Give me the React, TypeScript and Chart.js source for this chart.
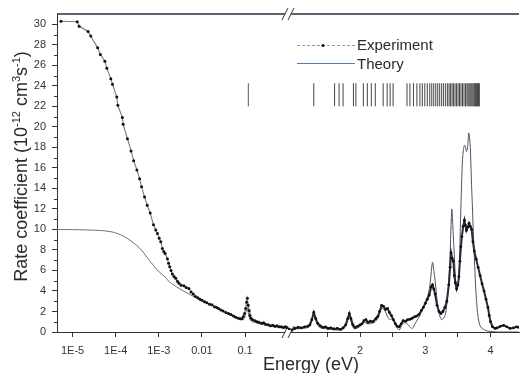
import { useEffect, useRef } from 'react';
import { Chart, registerables } from 'chart.js';

Chart.register(...registerables);

// ---- Experiment, low-energy (log) part ----
const expLowE = [5.4e-6, 1.28e-5, 1.42e-5, 2.29e-5, 2.64e-5, 3.82e-5, 4.41e-5, 5.62e-5, 6.24e-5, 7.71e-5, 8.43e-5, 1.06e-4, 1.12e-4, 1.43e-4, 1.49e-4, 1.87e-4, 2.27e-4, 2.61e-4, 3.1e-4, 3.58e-4, 3.98e-4, 4.67e-4, 5.38e-4, 6.31e-4, 7.52e-4, 8.5e-4, 9.29e-4, 1.02e-3, 1.11e-3, 1.21e-3, 1.3e-3, 1.4e-3, 1.58e-3, 1.68e-3, 1.79e-3, 1.92e-3, 2.06e-3, 2.25e-3, 2.46e-3, 2.7e-3, 2.93e-3, 3.3e-3, 3.82e-3, 4.3e-3, 4.98e-3, 5.6e-3, 6.3e-3, 7.08e-3, 8.0e-3, 9.0e-3, 1.0e-2, 1.15e-2, 1.3e-2, 1.5e-2, 1.7e-2, 1.95e-2, 2.2e-2, 2.43e-2, 2.75e-2, 3.1e-2, 3.6e-2, 4.13e-2, 4.7e-2, 5.4e-2, 6.1e-2, 7.01e-2, 7.8e-2, 8.5e-2, 9.12e-2, 9.7e-2, 0.103, 0.108, 0.113, 0.118, 0.124, 0.13, 0.137, 0.15, 0.17, 0.19, 0.21, 0.241, 0.27, 0.3, 0.344, 0.39, 0.44, 0.49, 0.55, 0.62, 0.693, 0.78, 0.86, 0.94];
const expLowRate = [30.3, 30.25, 29.8, 29.3, 28.85, 27.7, 27.05, 26.4, 25.7, 24.7, 24.15, 22.9, 22.1, 20.9, 20.25, 18.85, 17.65, 16.7, 15.8, 14.95, 14.15, 13.15, 12.35, 11.6, 10.45, 9.95, 9.6, 9.15, 8.8, 8.15, 7.85, 7.65, 7.15, 6.7, 6.35, 6.0, 5.65, 5.4, 5.25, 4.95, 4.75, 4.55, 4.5, 4.35, 4.25, 3.9, 3.7, 3.45, 3.35, 3.2, 3.1, 2.95, 2.85, 2.7, 2.65, 2.45, 2.4, 2.3, 2.15, 2.05, 1.9, 1.8, 1.7, 1.55, 1.45, 1.35, 1.3, 1.3, 1.5, 1.8, 2.3, 2.9, 3.3, 2.6, 2.1, 1.6, 1.35, 1.2, 1.1, 1.0, 0.95, 0.85, 0.9, 0.75, 0.7, 0.6, 0.65, 0.55, 0.6, 0.5, 0.5, 0.45, 0.5, 0.45];

// ---- Experiment, high-energy (linear) part ----
const expHighE = [0.9, 0.95, 1.0, 1.05, 1.1, 1.15, 1.2, 1.23, 1.26, 1.29, 1.32, 1.35, 1.39, 1.43, 1.47, 1.51, 1.55, 1.6, 1.65, 1.7, 1.74, 1.78, 1.81, 1.835, 1.86, 1.89, 1.92, 1.96, 2.0, 2.03, 2.06, 2.09, 2.12, 2.16, 2.2, 2.24, 2.27, 2.3, 2.33, 2.36, 2.39, 2.42, 2.45, 2.48, 2.51, 2.54, 2.57, 2.6, 2.63, 2.66, 2.7, 2.73, 2.77, 2.8, 2.84, 2.87, 2.9, 2.94, 2.97, 3.0, 3.03, 3.06, 3.09, 3.11, 3.13, 3.15, 3.18, 3.21, 3.24, 3.27, 3.3, 3.33, 3.36, 3.38, 3.395, 3.41, 3.43, 3.445, 3.46, 3.48, 3.5, 3.515, 3.53, 3.545, 3.56, 3.58, 3.6, 3.615, 3.63, 3.65, 3.67, 3.69, 3.71, 3.73, 3.75, 3.78, 3.81, 3.84, 3.87, 3.9, 3.93, 3.96, 3.98, 4.0, 4.03, 4.07, 4.1, 4.15, 4.2, 4.25, 4.3, 4.35, 4.4, 4.43];
const expHighRate = [0.3, 0.15, 0.35, 0.45, 0.4, 0.5, 0.55, 0.7, 1.2, 1.9, 1.3, 0.85, 0.6, 0.45, 0.5, 0.35, 0.4, 0.3, 0.35, 0.25, 0.4, 0.7, 1.3, 1.8, 1.3, 0.7, 0.45, 0.55, 0.7, 0.8, 1.1, 1.2, 0.95, 1.05, 1.0, 1.3, 1.5, 2.0, 2.6, 2.5, 2.2, 2.3, 1.9, 1.6, 1.2, 0.8, 0.55, 0.5, 0.8, 1.1, 1.05, 1.2, 1.25, 1.35, 1.5, 1.55, 1.7, 2.1, 2.4, 2.8, 3.2, 3.6, 4.4, 4.6, 4.2, 3.7, 2.6, 2.0, 1.8, 2.0, 2.4, 3.0, 4.6, 6.3, 7.7, 7.2, 6.9, 5.5, 4.8, 4.2, 4.6, 5.4, 6.9, 8.3, 9.3, 10.3, 10.9, 10.4, 9.9, 10.2, 10.6, 10.3, 10.0, 8.8, 7.9, 7.1, 6.3, 5.5, 4.7, 4.0, 3.2, 2.4, 1.6, 1.0, 0.5, 0.35, 0.4, 0.55, 0.65, 0.5, 0.35, 0.4, 0.5, 0.45];

// ---- Theory, low-energy part ----
const thLowE = [4.36e-6, 1e-5, 2e-5, 4.3e-5, 9.3e-5, 1.74e-4, 3.55e-4, 6.0e-4, 1.02e-3, 1.45e-3, 1.74e-3, 2.95e-3, 5.0e-3, 1e-2, 2e-2, 4e-2, 7e-2, 9e-2, 0.1, 0.112, 0.124, 0.14, 0.2, 0.3, 0.5, 0.7, 0.98];
const thLowRate = [10.0, 9.98, 9.95, 9.9, 9.7, 9.2, 8.2, 7.0, 5.85, 5.3, 4.9, 4.25, 3.7, 3.05, 2.45, 1.75, 1.3, 1.2, 1.5, 2.4, 1.5, 1.05, 0.85, 0.65, 0.5, 0.4, 0.35];

// ---- Theory, high-energy part ----
const thHighE = [0.9, 1.0, 1.1, 1.2, 1.25, 1.29, 1.33, 1.38, 1.5, 1.7, 1.78, 1.835, 1.88, 1.92, 2.0, 2.06, 2.12, 2.2, 2.27, 2.33, 2.38, 2.42, 2.46, 2.5, 2.55, 2.6, 2.65, 2.7, 2.75, 2.8, 2.85, 2.9, 2.95, 3.0, 3.05, 3.073, 3.11, 3.13, 3.15, 3.2, 3.25, 3.3, 3.33, 3.36, 3.38, 3.395, 3.407, 3.42, 3.438, 3.46, 3.48, 3.5, 3.52, 3.54, 3.555, 3.57, 3.585, 3.6, 3.615, 3.63, 3.645, 3.666, 3.68, 3.69, 3.705, 3.72, 3.74, 3.757, 3.775, 3.793, 3.81, 3.833, 3.87, 3.91, 3.95, 4.0, 4.1, 4.43];
const thHighRate = [0.3, 0.3, 0.35, 0.45, 0.9, 1.7, 1.0, 0.45, 0.3, 0.2, 0.6, 1.6, 0.6, 0.3, 0.55, 0.95, 0.8, 0.9, 1.3, 2.3, 2.1, 1.5, 1.2, 1.3, 0.6, 0.2, 0.8, 0.9, 0.6, 0.35, 0.9, 1.4, 2.1, 2.8, 3.8, 4.7, 6.8, 6.0, 5.0, 2.1, 1.2, 1.6, 2.7, 5.0, 7.5, 10.5, 12.0, 10.5, 8.3, 5.5, 4.1, 4.5, 6.0, 11.0, 14.2, 16.8, 17.8, 18.2, 18.1, 17.6, 17.8, 19.4, 18.8, 18.0, 15.0, 12.5, 9.0, 6.4, 4.0, 2.4, 1.4, 0.7, 0.35, 0.2, 0.1, 0.05, 0.0, 0.0];

// ---- Resonance level markers (eV) ----
const levelLowE = [0.119];
const levelHighE = [1.29, 1.609, 1.678, 1.739, 1.898, 1.936, 2.05, 2.111, 2.172, 2.233, 2.354, 2.415, 2.46, 2.506, 2.719, 2.764, 2.818, 2.871, 2.917, 2.954, 2.992, 3.03, 3.068, 3.099, 3.129, 3.16, 3.19, 3.22, 3.251, 3.281, 3.312, 3.342, 3.365, 3.388, 3.41, 3.433, 3.456, 3.479, 3.502, 3.524, 3.547, 3.57, 3.593, 3.616, 3.638, 3.653, 3.669, 3.684, 3.699, 3.714, 3.729, 3.745, 3.757, 3.767, 3.778, 3.789, 3.798, 3.807, 3.816, 3.828];
const levelSpan = [22.0, 24.25];

// ---- Axes ----
const logTicks = [1e-5, 1e-4, 1e-3, 0.01, 0.1];
const logTickLabels = ['1E-5', '1E-4', '1E-3', '0.01', '0.1'];
const linTicks = [1.5, 2, 2.5, 3, 3.5, 4];
const linTickLabels = ['', '2', '', '3', '', '4'];
const yTicks = [0, 2, 4, 6, 8, 10, 12, 14, 16, 18, 20, 22, 24, 26, 28, 30];
const yMinorTicks = [1, 3, 5, 7, 9, 11, 13, 15, 17, 19, 21, 23, 25, 27, 29];
const legendLabels = ['Experiment', 'Theory'];
const xTitle = 'Energy (eV)';
const yTitleParts: [string, boolean][] = [['Rate coefficient (10', false], ['-12', true], [' cm', false], ['3', true], ['s', false], ['-1', true], [')', false]];

const FONT = "'Liberation Sans', Arial, sans-serif";

function pts(xs: number[], ys: number[]) {
  return xs.map((x, i) => ({ x, y: ys[i] }));
}
function levelPts(es: number[]) {
  const out: { x: number; y: number | null }[] = [];
  for (const e of es) {
    out.push({ x: e, y: levelSpan[0] });
    out.push({ x: e, y: levelSpan[1] });
    out.push({ x: e, y: null });
  }
  return out;
}

const decor = {
  id: 'decor',
  afterDraw(chart: any) {
    const { ctx, chartArea: ca, scales } = chart;
    ctx.save();
    // top frame line
    ctx.strokeStyle = '#2c2c46';
    ctx.lineWidth = 1.3;
    ctx.beginPath();
    ctx.moveTo(ca.left, ca.top);
    ctx.lineTo(ca.right, ca.top);
    ctx.stroke();
    // minor y ticks
    ctx.strokeStyle = '#333';
    ctx.lineWidth = 1;
    for (const v of yMinorTicks) {
      const py = Math.round(scales.y.getPixelForValue(v)) + 0.5;
      ctx.beginPath();
      ctx.moveTo(ca.left - 3, py);
      ctx.lineTo(ca.left, py);
      ctx.stroke();
    }
    // axis breaks
    const bx = scales.xl.right;
    for (const by of [ca.top, ca.bottom]) {
      ctx.fillStyle = '#fff';
      ctx.fillRect(bx - 3, by - 2, 6, 4);
      ctx.strokeStyle = '#333';
      ctx.lineWidth = 1;
      for (const dx of [-3, 3]) {
        ctx.beginPath();
        ctx.moveTo(bx + dx - 3, by + 6);
        ctx.lineTo(bx + dx + 3, by - 6);
        ctx.stroke();
      }
    }
    // legend
    ctx.lineWidth = 1;
    ctx.strokeStyle = '#9a9a9a';
    ctx.setLineDash([3, 2]);
    ctx.beginPath();
    ctx.moveTo(297, 45.5);
    ctx.lineTo(355, 45.5);
    ctx.stroke();
    ctx.setLineDash([]);
    ctx.fillStyle = '#111';
    ctx.beginPath();
    ctx.arc(323, 45.5, 1.6, 0, Math.PI * 2);
    ctx.fill();
    ctx.strokeStyle = '#5b79b8';
    ctx.beginPath();
    ctx.moveTo(297, 63.5);
    ctx.lineTo(355, 63.5);
    ctx.stroke();
    ctx.fillStyle = '#2a2a2a';
    ctx.font = `15px ${FONT}`;
    ctx.textBaseline = 'middle';
    ctx.textAlign = 'left';
    ctx.fillText(legendLabels[0], 357, 45.5);
    ctx.fillText(legendLabels[1], 357, 65);
    // x title
    ctx.font = `18px ${FONT}`;
    ctx.textBaseline = 'alphabetic';
    ctx.textAlign = 'center';
    ctx.fillText(xTitle, 311, 370);
    // y title with superscripts
    const big = `18px ${FONT}`;
    const small = `11px ${FONT}`;
    let total = 0;
    for (const [t, sup] of yTitleParts) {
      ctx.font = sup ? small : big;
      total += ctx.measureText(t).width;
    }
    ctx.translate(26.5, 166.5 + total / 2);
    ctx.rotate(-Math.PI / 2);
    ctx.textAlign = 'left';
    let x = 0;
    for (const [t, sup] of yTitleParts) {
      ctx.font = sup ? small : big;
      ctx.fillText(t, x, sup ? -7 : 0);
      x += ctx.measureText(t).width;
    }
    ctx.restore();
  },
};

export default function App() {
  const ref = useRef<HTMLCanvasElement | null>(null);
  useEffect(() => {
    if (!ref.current) return;
    Chart.defaults.font.family = FONT;
    const tickFont = { size: 11, family: FONT };
    const chart = new Chart(ref.current, {
      type: 'line',
      data: {
        datasets: [
          {
            label: 'Experiment', xAxisID: 'xl', data: pts(expLowE, expLowRate),
            borderColor: '#7a7a7a', borderWidth: 1.1, pointRadius: 1.5, pointBackgroundColor: '#111', pointBorderColor: '#111', pointBorderWidth: 0, tension: 0,
          },
          {
            label: 'Experiment', xAxisID: 'xr', data: pts(expHighE, expHighRate),
            borderColor: '#2a2a38', borderWidth: 2, pointRadius: 1.4, pointBackgroundColor: '#111', pointBorderColor: '#111', pointBorderWidth: 0, tension: 0,
          },
          {
            label: 'Theory', xAxisID: 'xl', data: pts(thLowE, thLowRate),
            borderColor: '#6a6f82', borderWidth: 1, pointRadius: 0, tension: 0.3,
          },
          {
            label: 'Theory', xAxisID: 'xr', data: pts(thHighE, thHighRate),
            borderColor: '#4e5468', borderWidth: 1, pointRadius: 0, tension: 0.3,
          },
          {
            label: 'levels', xAxisID: 'xl', data: levelPts(levelLowE),
            borderColor: '#555', borderWidth: 1, pointRadius: 0, spanGaps: false,
          },
          {
            label: 'levels', xAxisID: 'xr', data: levelPts(levelHighE),
            borderColor: '#444', borderWidth: 1, pointRadius: 0, spanGaps: false,
          },
        ],
      },
      options: {
        responsive: false,
        animation: false,
        parsing: true,
        layout: { padding: { top: 14, left: 0, right: 0, bottom: 0 } },
        plugins: { legend: { display: false }, tooltip: { enabled: false } },
        scales: {
          xl: {
            type: 'logarithmic', position: 'bottom', stack: 'x', stackWeight: 1,
            min: 4.355e-6, max: 0.99,
            afterBuildTicks: (s: any) => { s.ticks = logTicks.map((v) => ({ value: v })); },
            afterFit: (s: any) => { s.height = 41; },
            ticks: { callback: (_v: any, i: number) => logTickLabels[i], autoSkip: false, maxRotation: 0, padding: 7, color: '#333', font: tickFont },
            grid: { drawOnChartArea: false, tickLength: 5, color: '#333' },
            border: { color: '#333' },
          },
          xr: {
            type: 'linear', position: 'bottom', stack: 'x', stackWeight: 1,
            min: 0.895, max: 4.436,
            afterBuildTicks: (s: any) => { s.ticks = linTicks.map((v) => ({ value: v })); },
            afterFit: (s: any) => { s.height = 41; },
            ticks: { callback: (_v: any, i: number) => linTickLabels[i], autoSkip: false, maxRotation: 0, padding: 7, color: '#333', font: tickFont },
            grid: { drawOnChartArea: false, tickLength: 5, color: '#333' },
            border: { color: '#333' },
          },
          y: {
            type: 'linear', position: 'left', min: 0, max: 31,
            afterBuildTicks: (s: any) => { s.ticks = yTicks.map((v) => ({ value: v })); },
            afterFit: (s: any) => { s.width = 57; },
            ticks: { padding: 6, color: '#333', font: tickFont },
            grid: { drawOnChartArea: false, tickLength: 5, color: '#333' },
            border: { color: '#333' },
          },
        },
      } as any,
      plugins: [decor],
    });
    return () => chart.destroy();
  }, []);
  return (
    <div style={{ position: 'absolute', left: 0, top: 0, width: 523, height: 373, background: '#fff' }}>
      <canvas ref={ref} width={523} height={373} style={{ display: 'block' }} />
    </div>
  );
}
